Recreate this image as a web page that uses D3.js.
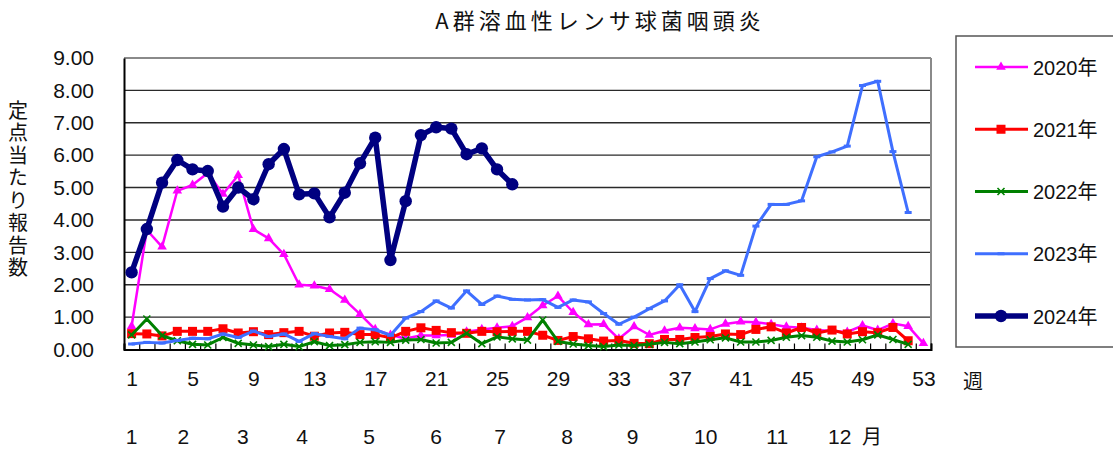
<!DOCTYPE html>
<html><head><meta charset="utf-8">
<script src="https://cdn.jsdelivr.net/npm/d3@7"></script>
<style>
html,body{margin:0;padding:0;background:#fff;}
text{font-family:"Liberation Sans","Noto Sans CJK JP",sans-serif;fill:#111;}
</style></head>
<body><svg id="c" width="1113" height="450"></svg>
<script>
const weeks = [1,2,3,4,5,6,7,8,9,10,11,12,13,14,15,16,17,18,19,20,21,22,23,24,25,26,27,28,29,30,31,32,33,34,35,36,37,38,39,40,41,42,43,44,45,46,47,48,49,50,51,52,53];
const weekTickLabels = [1,5,9,13,17,21,25,29,33,37,41,45,49,53];
const yTicks = [0,1,2,3,4,5,6,7,8,9];
const monthLabels = ["1","2","3","4","5","6","7","8","9","10","11","12"];
const monthAnchorWeeks = [1,4.4,8.3,12.2,16.6,21,25.2,29.6,33.9,38.7,43.4,47.5];
const seriesNames = ["2020年","2021年","2022年","2023年","2024年"];

const s2020 = [0.72,3.69,3.17,4.90,5.08,5.45,4.80,5.38,3.71,3.43,2.94,2.00,1.97,1.86,1.53,1.09,0.62,0.45,0.34,0.43,0.43,0.45,0.55,0.62,0.67,0.72,0.99,1.36,1.65,1.15,0.77,0.78,0.33,0.71,0.45,0.58,0.67,0.65,0.62,0.79,0.86,0.84,0.78,0.70,0.67,0.60,0.57,0.54,0.74,0.60,0.80,0.72,0.19];
const s2021 = [0.49,0.48,0.42,0.56,0.56,0.56,0.64,0.51,0.55,0.46,0.52,0.56,0.41,0.51,0.53,0.46,0.46,0.36,0.56,0.67,0.59,0.52,0.50,0.56,0.55,0.56,0.56,0.44,0.28,0.40,0.33,0.26,0.28,0.19,0.18,0.31,0.31,0.37,0.40,0.48,0.46,0.62,0.70,0.51,0.68,0.51,0.60,0.48,0.55,0.52,0.68,0.27];
const s2022 = [0.45,0.94,0.43,0.27,0.16,0.14,0.37,0.19,0.14,0.09,0.16,0.09,0.24,0.12,0.15,0.22,0.24,0.22,0.29,0.31,0.20,0.22,0.50,0.18,0.39,0.33,0.29,0.91,0.25,0.17,0.12,0.09,0.14,0.12,0.16,0.22,0.18,0.23,0.30,0.36,0.23,0.23,0.28,0.38,0.43,0.38,0.26,0.23,0.30,0.45,0.31,0.16];
const s2023 = [0.17,0.22,0.20,0.28,0.35,0.33,0.48,0.37,0.57,0.40,0.48,0.25,0.49,0.40,0.33,0.66,0.61,0.44,0.97,1.17,1.50,1.28,1.81,1.39,1.65,1.55,1.53,1.54,1.30,1.53,1.47,1.11,0.78,1.00,1.26,1.50,2.00,1.17,2.19,2.43,2.29,3.81,4.48,4.48,4.59,5.95,6.10,6.28,8.15,8.28,6.11,4.23];
const s2024 = [2.38,3.72,5.15,5.85,5.56,5.51,4.41,5.00,4.64,5.72,6.19,4.79,4.82,4.08,4.84,5.75,6.54,2.76,4.58,6.62,6.86,6.82,6.03,6.21,5.56,5.10];

const svg = d3.select("#c");
const L = 124, R = 931, T = 58, B = 349.5;
const x = d3.scaleLinear().domain([0.5, 53.5]).range([L, R]);
const y = d3.scaleLinear().domain([0, 9]).range([B, T]);

// gridlines
svg.append("g").selectAll("line").data(yTicks.filter(d => d > 0 && d < 9)).join("line")
  .attr("x1", L).attr("x2", R).attr("y1", d => y(d)).attr("y2", d => y(d))
  .attr("stroke", "#2a2a2a").attr("stroke-width", 1.4);

// frame top/right gray
svg.append("line").attr("x1", L).attr("x2", R).attr("y1", y(9)).attr("y2", y(9)).attr("stroke", "#8a8a8a").attr("stroke-width", 2);
svg.append("line").attr("x1", R).attr("x2", R).attr("y1", y(9)).attr("y2", y(0)).attr("stroke", "#8a8a8a").attr("stroke-width", 2);

// y axis labels
const yAxis = d3.axisLeft(y).tickValues(yTicks).tickSize(0).tickPadding(30).tickFormat(d3.format(".2f"));
const gy = svg.append("g").attr("transform", `translate(${L},0)`).call(yAxis);
gy.select(".domain").attr("stroke", "#000").attr("stroke-width", 2);
gy.selectAll("text").style("font-size", "21px").attr("fill", "#111");

// x axis: inner tick marks at week boundaries
const bounds = weeks.map(w => w - 0.5).concat([weeks[weeks.length - 1] + 0.5]);
const gx = svg.append("g").attr("transform", `translate(0,${B})`)
  .call(d3.axisBottom(x).tickValues(bounds).tickSize(-6).tickFormat(""));
gx.select(".domain").attr("stroke", "#000").attr("stroke-width", 2);
gx.selectAll(".tick line").attr("stroke", "#000").attr("stroke-width", 1.2);

const gxl = svg.append("g").attr("transform", `translate(0,${B})`)
  .call(d3.axisBottom(x).tickValues(weekTickLabels).tickSize(0).tickPadding(22));
gxl.select(".domain").remove();
gxl.selectAll("text").style("font-size", "21px").attr("fill", "#111");

svg.append("text").attr("x", 973).attr("y", 389).attr("text-anchor", "middle")
  .style("font-size", "20px").style("font-family", "Noto Sans CJK JP").text("週");

// month labels
svg.append("g").selectAll("text").data(monthLabels).join("text")
  .attr("x", (d, i) => x(monthAnchorWeeks[i])).attr("y", 444).attr("text-anchor", "middle")
  .style("font-size", "21px").text(d => d);
svg.append("text").attr("x", 872).attr("y", 444).attr("text-anchor", "middle")
  .style("font-size", "20px").style("font-family", "Noto Sans CJK JP").text("月");

// title
svg.append("text").attr("x", 600).attr("y", 29).attr("text-anchor", "middle")
  .style("font-size", "22px").style("letter-spacing", "4px").style("font-family", "Noto Sans CJK JP")
  .text("A群溶血性レンサ球菌咽頭炎");

// y title vertical
svg.append("text").attr("x", 18).attr("y", 100)
  .style("writing-mode", "vertical-rl").style("text-orientation", "upright")
  .style("font-size", "20px").style("letter-spacing", "2.5px").style("font-family", "Noto Sans CJK JP")
  .text("定点当たり報告数");

// series
const cfg = [
  {data: s2020, color: "#ff00ff", w: 2.5, m: "tri"},
  {data: s2021, color: "#ff0000", w: 3, m: "sq"},
  {data: s2022, color: "#008000", w: 3, m: "x"},
  {data: s2023, color: "#3f6fff", w: 3, m: "dash"},
  {data: s2024, color: "#000080", w: 5.5, m: "dot"}
];
const line = d3.line().x((d, i) => x(weeks[i])).y(d => y(d));

function marker(g, type, color, cx, cy) {
  if (type === "tri") {
    g.append("path").attr("d", d3.symbol(d3.symbolTriangle, 40)()).attr("transform", `translate(${cx},${cy})`).attr("fill", color);
  } else if (type === "sq") {
    g.append("rect").attr("x", cx - 4.5).attr("y", cy - 4.5).attr("width", 9).attr("height", 9).attr("fill", color);
  } else if (type === "x") {
    g.append("path").attr("d", `M${cx-3.5},${cy-3.5}L${cx+3.5},${cy+3.5}M${cx-3.5},${cy+3.5}L${cx+3.5},${cy-3.5}`).attr("stroke", color).attr("stroke-width", 1.6);
  } else if (type === "dash") {
    g.append("rect").attr("x", cx - 3.5).attr("y", cy - 1.5).attr("width", 7).attr("height", 3).attr("fill", color);
  } else if (type === "dot") {
    g.append("circle").attr("cx", cx).attr("cy", cy).attr("r", 6.2).attr("fill", color);
  }
}

cfg.forEach(c => {
  const g = svg.append("g");
  g.append("path").datum(c.data).attr("d", line).attr("fill", "none")
    .attr("stroke", c.color).attr("stroke-width", c.w).attr("stroke-linejoin", "round");
  c.data.forEach((v, i) => marker(g, c.m, c.color, x(weeks[i]), y(v)));
});

// legend
svg.append("rect").attr("x", 956).attr("y", 36).attr("width", 170).attr("height", 311)
  .attr("fill", "none").attr("stroke", "#555").attr("stroke-width", 1.5);
const legY = d3.scalePoint().domain(seriesNames).range([67, 316]);
cfg.forEach((c, i) => {
  const g = svg.append("g");
  const ly = legY(seriesNames[i]);
  g.append("line").attr("x1", 975).attr("x2", 1028).attr("y1", ly).attr("y2", ly)
    .attr("stroke", c.color).attr("stroke-width", c.w);
  marker(g, c.m, c.color, 1001, ly);
  g.append("text").attr("x", 1033).attr("y", ly + 7.5).style("font-size", "20px").text(seriesNames[i]);
});
</script></body></html>
